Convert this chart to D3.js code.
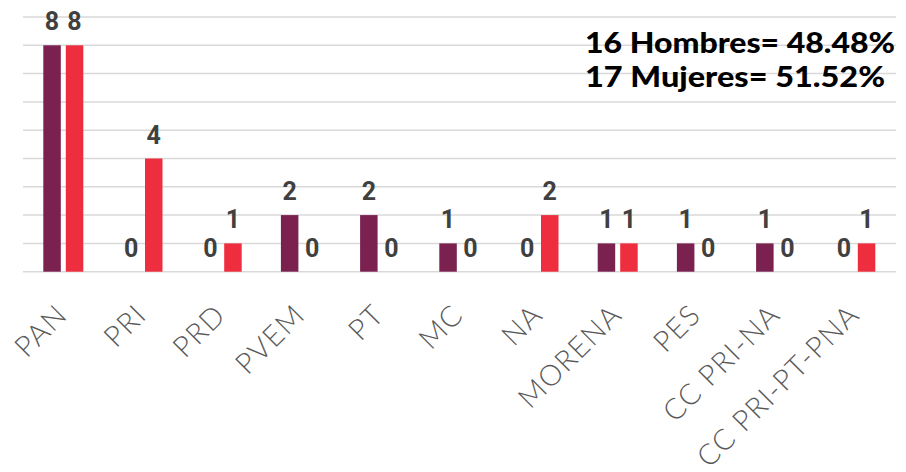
<!DOCTYPE html>
<html>
<head>
<meta charset="utf-8">
<script src="https://cdn.jsdelivr.net/npm/d3@7/dist/d3.min.js"></script>
<style>
  html, body { margin: 0; padding: 0; background: #fff; }
  svg { display: block; }
</style>
</head>
<body>
<div id="chart"></div>
<script>
const categories = ["PAN", "PRI", "PRD", "PVEM", "PT", "MC", "NA", "MORENA", "PES", "CC PRI-NA", "CC PRI-PT-PNA"];
const hombres = [8, 0, 0, 2, 2, 1, 0, 1, 1, 1, 0];
const mujeres = [8, 4, 1, 0, 0, 0, 2, 1, 0, 0, 1];
const seriesNames = ["Hombres", "Mujeres"];
const yTicks = [0, 1, 2, 3, 4, 5, 6, 7, 8, 9];
const summaryLines = ["16 Hombres= 48.48%", "17 Mujeres= 51.52%"];

const W = 906, H = 472;
const colors = { Hombres: "#7b2150", Mujeres: "#ee2e3f" };

const svg = d3.select("#chart").append("svg").attr("width", W).attr("height", H);

const x0 = d3.scaleBand().domain(categories).range([23.7, 894.9]).paddingInner(0).paddingOuter(0);
const x1 = d3.scaleBand().domain(seriesNames).range([19.6, 59.6]).paddingInner(0.222);
const y = d3.scaleLinear().domain([0, 9]).range([271.7, 17]);

// gridlines
svg.append("g").selectAll("line").data(yTicks).join("line")
  .attr("x1", 23).attr("x2", 896)
  .attr("y1", d => y(d)).attr("y2", d => y(d))
  .attr("stroke", "#d9d9d9").attr("stroke-width", 1.5);

const rows = categories.map((c, i) => ({ c, Hombres: hombres[i], Mujeres: mujeres[i] }));

const groups = svg.append("g").selectAll("g").data(rows).join("g")
  .attr("transform", d => `translate(${x0(d.c)},0)`);

groups.selectAll("rect").data(d => seriesNames.map(s => ({ s, v: d[s] }))).join("rect")
  .attr("x", d => x1(d.s)).attr("width", x1.bandwidth())
  .attr("y", d => y(d.v)).attr("height", d => y(0) - y(d.v))
  .attr("fill", d => colors[d.s]);

groups.selectAll("text").data(d => seriesNames.map(s => ({ s, v: d[s] }))).join("text")
  .attr("x", d => x1(d.s) + x1.bandwidth() / 2)
  .attr("y", d => y(d.v) - 15)
  .attr("text-anchor", "middle")
  .attr("font-family", "Roboto, 'DejaVu Sans', sans-serif")
  .attr("font-weight", 700)
  .attr("font-size", 25)
  .attr("fill", "#404040")
  .text(d => d.v);

// category labels
svg.append("g").selectAll("text").data(categories).join("text")
  .attr("transform", d => `translate(${x0(d) + x0.bandwidth() / 2 - 9},302) rotate(-45)`)
  .attr("text-anchor", "end")
  .attr("dy", "0.72em")
  .attr("font-family", "Lato, 'DejaVu Sans', sans-serif")
  .attr("font-weight", 300)
  .attr("font-size", 29)
  .attr("letter-spacing", 1.2)
  .attr("fill", "#595959")
  .text(d => d);

// summary text
const summaryWidths = [310, 300];
svg.append("g").selectAll("text").data(summaryLines).join("text")
  .attr("x", 585)
  .attr("y", (d, i) => 53 + i * 34)
  .attr("font-family", "Lato, 'DejaVu Sans', sans-serif")
  .attr("font-weight", 900)
  .attr("font-size", 28)
  .attr("fill", "#000")
  .attr("textLength", (d, i) => summaryWidths[i])
  .attr("lengthAdjust", "spacingAndGlyphs")
  .text(d => d);
</script>
</body>
</html>
